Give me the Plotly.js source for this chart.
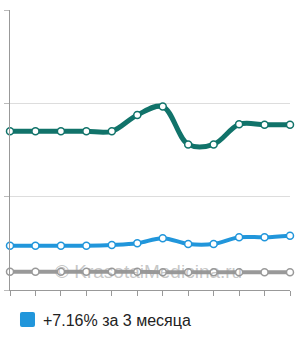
<!DOCTYPE html>
<html>
<head>
<meta charset="utf-8">
<script src="https://cdn.plot.ly/plotly-3.0.1.min.js"></script>
<style>html,body{margin:0;padding:0;background:#fff;}#chart{width:300px;height:340px;}</style>
</head>
<body>
<div id="chart"></div>
<script>
// Data
var points = [0, 1, 2, 3, 4, 5, 6, 7, 8, 9, 10, 11];
var tealSeries = [1.70, 1.70, 1.70, 1.70, 1.70, 1.875, 1.965, 1.56, 1.56, 1.775, 1.77, 1.77];
var blueSeries = [0.475, 0.475, 0.475, 0.475, 0.482, 0.50, 0.555, 0.493, 0.493, 0.565, 0.565, 0.582];
var graySeries = [0.195, 0.195, 0.195, 0.195, 0.195, 0.195, 0.19, 0.19, 0.19, 0.19, 0.19, 0.19];
var legendLabel = '+7.16% за 3 месяца';
var watermarkText = '© KrasotaiMedicina.ru';

function series(y, color, width) {
  return {
    x: points, y: y, type: 'scatter', mode: 'lines+markers',
    line: {color: color, width: width, shape: 'spline', smoothing: 1},
    marker: {size: 7, color: '#ffffff', line: {color: color, width: 1.5}},
    cliponaxis: false, hoverinfo: 'skip', showlegend: false
  };
}

var data = [
  series(graySeries, '#999999', 4),
  series(blueSeries, '#2196db', 4),
  series(tealSeries, '#11736a', 5)
];

var layout = {
  width: 300, height: 340,
  margin: {l: 10, r: 10, t: 10, b: 50, pad: 0},
  paper_bgcolor: '#ffffff', plot_bgcolor: '#ffffff',
  showlegend: false,
  xaxis: {
    range: [0, 11], tickvals: points, showticklabels: false,
    ticks: 'outside', ticklen: 5, tickcolor: '#999999', tickwidth: 1,
    showgrid: false, zeroline: false,
    showline: true, linecolor: '#999999', linewidth: 1, fixedrange: true
  },
  yaxis: {
    range: [0, 3], dtick: 1, tick0: 0, showticklabels: false,
    ticks: 'outside', ticklen: 5, tickcolor: '#bbbbbb', tickwidth: 1,
    showgrid: true, gridcolor: '#dddddd', gridwidth: 1, zeroline: false,
    showline: true, linecolor: '#999999', linewidth: 1, fixedrange: true
  },
  shapes: [{
    type: 'path', xref: 'paper', yref: 'paper',
    path: 'M 0.0429 -0.0786 L 0.0821 -0.0786 Q 0.0893 -0.0786 0.0893 -0.0857 L 0.0893 -0.125 Q 0.0893 -0.1321 0.0821 -0.1321 L 0.0429 -0.1321 Q 0.0357 -0.1321 0.0357 -0.125 L 0.0357 -0.0857 Q 0.0357 -0.0786 0.0429 -0.0786 Z',
    fillcolor: '#2196db', line: {width: 0}
  }],
  annotations: [
    {
      xref: 'paper', yref: 'paper', x: (41 - 10) / 280, y: (290 - 320) / 280,
      xanchor: 'left', yanchor: 'middle', showarrow: false,
      text: legendLabel,
      font: {family: 'Liberation Sans, Arial, sans-serif', size: 16, color: '#222222'}
    },
    {
      xref: 'paper', yref: 'paper', x: (148 - 10) / 280, y: (290 - 271) / 280,
      xanchor: 'center', yanchor: 'middle', showarrow: false,
      text: watermarkText,
      font: {family: 'Liberation Sans, Arial, sans-serif', size: 19, color: 'rgba(150,150,150,0.55)'}
    }
  ]
};

Plotly.newPlot('chart', data, layout, {displayModeBar: false, staticPlot: true});
</script>
</body>
</html>
